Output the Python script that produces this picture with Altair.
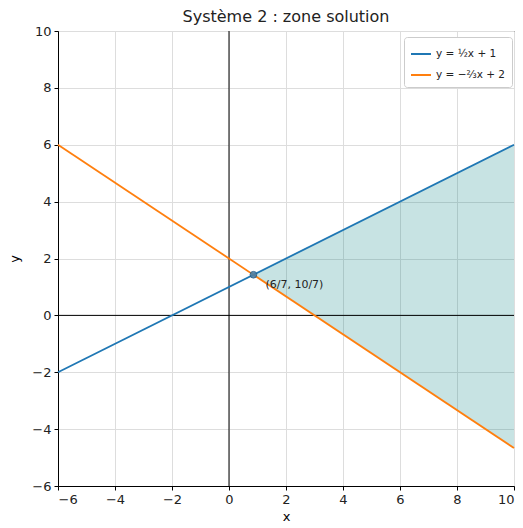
import altair as alt
import pandas as pd

# Two lines of the system, sampled at the plot's x bounds
x_ends = [-6, 10]
blue_y = [-2, 6]            # y = x/2 + 1
orange_y = [6, -14 / 3]     # y = -2x/3 + 2
labels = ["y = ½x + 1", "y = −⅔x + 2"]
colors = ["#1f77b4", "#ff7f0e"]

# Solution zone between the lines, from the intersection to x = 10
zone_x = [6 / 7, 10]
zone_upper = [10 / 7, 6]
zone_lower = [10 / 7, -14 / 3]

# Intersection point
pt_x = [6 / 7]
pt_y = [10 / 7]
pt_label = ["(6/7, 10/7)"]

ticks = [-6, -4, -2, 0, 2, 4, 6, 8, 10]

lines_df = pd.DataFrame({
    "x": x_ends + x_ends,
    "y": blue_y + orange_y,
    "série": [labels[0]] * 2 + [labels[1]] * 2,
})
zone_df = pd.DataFrame({"x": zone_x, "hi": zone_upper, "lo": zone_lower})
pt_df = pd.DataFrame({"x": pt_x, "y": pt_y, "t": pt_label})

xs = alt.Scale(domain=[-6, 10], nice=False, zero=False)
ys = alt.Scale(domain=[-6, 10], nice=False, zero=False)

x_axis = alt.Axis(values=ticks, title="x", grid=True, gridColor="#dddddd",
                  tickColor="black", domainColor="black", labelColor="#222222",
                  tickSize=4, labelFontSize=13, titleFontSize=13,
                  titleFontWeight="normal", labelFont="DejaVu Sans",
                  titleFont="DejaVu Sans", titlePadding=4, labelPadding=3)
y_axis = alt.Axis(values=ticks, title="y", grid=True, gridColor="#dddddd",
                  tickColor="black", domainColor="black", labelColor="#222222",
                  tickSize=4, labelFontSize=13, titleFontSize=13,
                  titleFontWeight="normal", labelFont="DejaVu Sans",
                  titleFont="DejaVu Sans", titlePadding=10, labelPadding=3)

zone = alt.Chart(zone_df).mark_area(color="teal", opacity=0.22).encode(
    x=alt.X("x:Q", scale=xs, axis=x_axis),
    y=alt.Y("hi:Q", scale=ys, axis=y_axis),
    y2="lo:Q",
)

axes_df = pd.DataFrame({"v": [0]})
vline = alt.Chart(axes_df).mark_rule(color="black", strokeWidth=1).encode(
    x=alt.X("v:Q", scale=xs))
hline = alt.Chart(axes_df).mark_rule(color="black", strokeWidth=1).encode(
    y=alt.Y("v:Q", scale=ys))

lines = alt.Chart(lines_df).mark_line(strokeWidth=1.8).encode(
    x=alt.X("x:Q", scale=xs),
    y=alt.Y("y:Q", scale=ys),
    color=alt.Color("série:N", scale=alt.Scale(domain=labels, range=colors),
                    legend=alt.Legend(title=None, orient="none", legendX=346,
                                      legendY=6, symbolType="stroke",
                                      symbolSize=400, symbolStrokeWidth=2,
                                      labelFontSize=10.5, labelFont="DejaVu Sans",
                                      labelColor="#222222",
                                      strokeColor="#cccccc", fillColor="white",
                                      cornerRadius=3, padding=6, rowPadding=4)),
)

point = alt.Chart(pt_df).mark_point(filled=True, size=45, color="#4a7fa6",
                                    stroke="#2a5f86", strokeWidth=1,
                                    opacity=0.9).encode(
    x=alt.X("x:Q", scale=xs), y=alt.Y("y:Q", scale=ys))

label = alt.Chart(pt_df).mark_text(align="left", baseline="middle", dx=12,
                                   dy=10, fontSize=11, font="DejaVu Sans",
                                   color="#222222").encode(
    x=alt.X("x:Q", scale=xs), y=alt.Y("y:Q", scale=ys), text="t:N")

chart = alt.layer(zone, vline, hline, lines, point, label).properties(
    width=456,
    height=455,
    title=alt.Title("Système 2 : zone solution", fontSize=16,
                    fontWeight="normal", font="DejaVu Sans", color="#222222",
                    offset=0),
    autosize=alt.AutoSizeParams(type="none"),
    padding={"left": 58, "top": 31, "right": 9, "bottom": 42},
).configure_view(stroke="black", strokeWidth=1)

chart.save("out.html", embed_options={"renderer": "svg", "actions": False})
